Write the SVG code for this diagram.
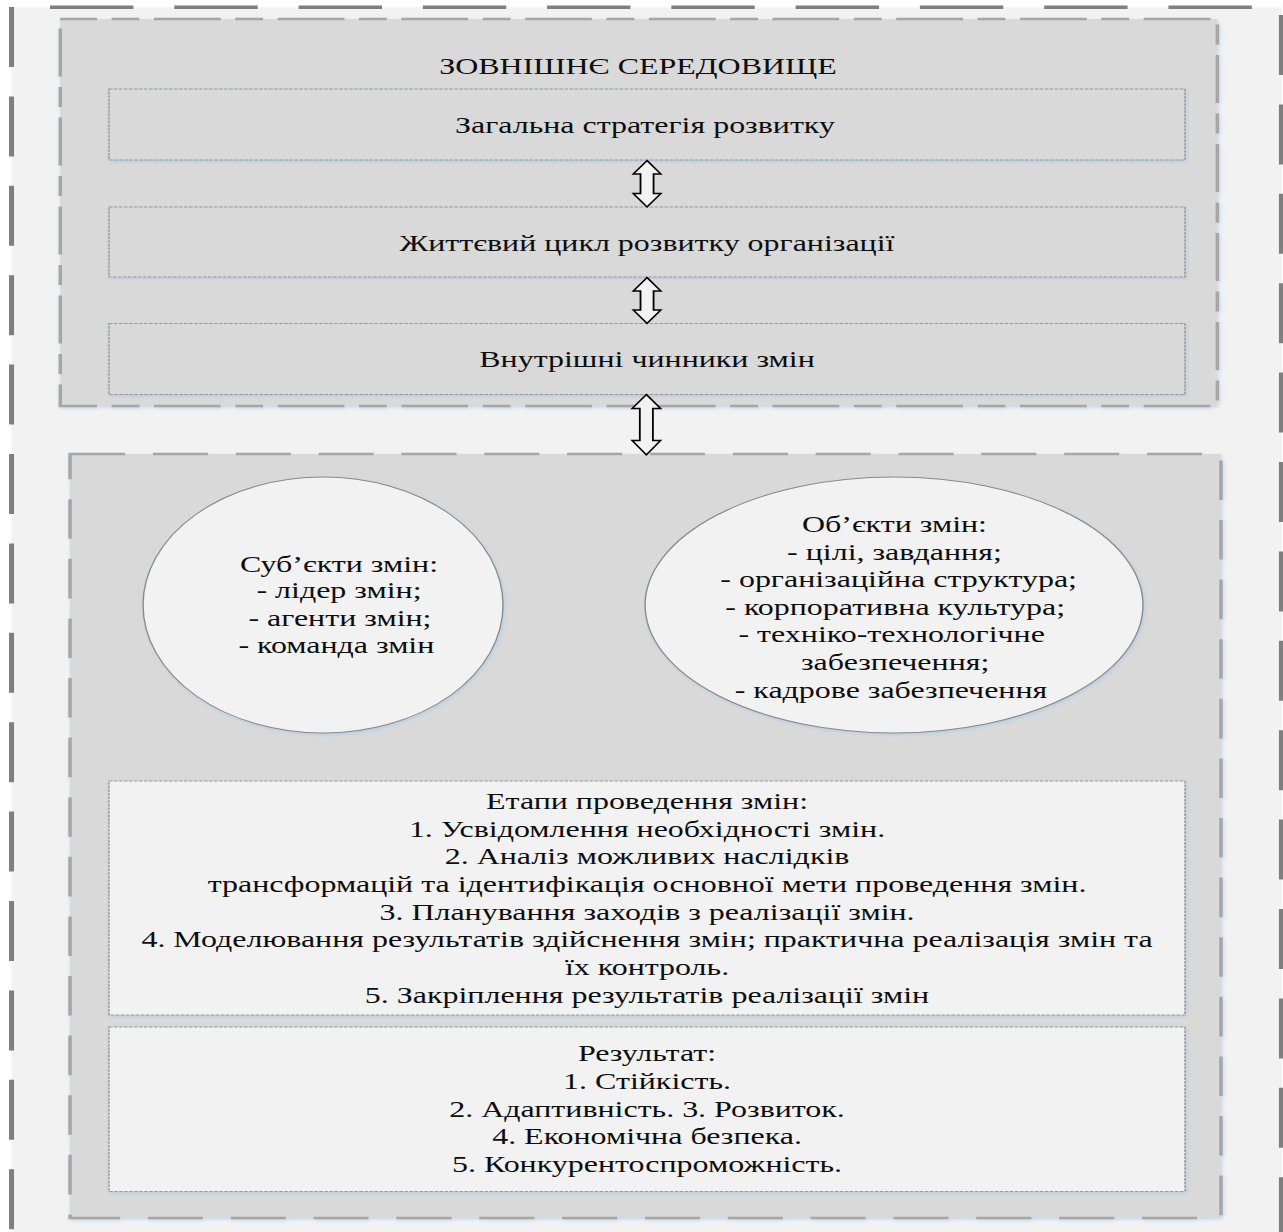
<svg xmlns="http://www.w3.org/2000/svg" width="1283" height="1232" viewBox="0 0 1283 1232">
  <defs>
    <filter id="glow" x="-5%" y="-5%" width="110%" height="110%">
      <feDropShadow dx="0.8" dy="1.5" stdDeviation="1.6" flood-color="#9dc3e6" flood-opacity="0.55"/>
    </filter>
    <style>
      .txt { font-family: "Liberation Serif", "Times New Roman", serif; font-size: 23px; fill: #0d0d0d; text-anchor: middle; }
      .outer { fill: none; stroke: #7f7f7f; stroke-width: 3.6; stroke-dasharray: 60 29.4; }
      .frameTop { fill: #d9d9d9; stroke: #a6a6a6; stroke-width: 2.5; stroke-dasharray: 48 10.5 20 10.5; stroke-dashoffset: 21.6; filter: url(#glow); }
      .frameBottom { fill: #d9d9d9; stroke: #a6a6a6; stroke-width: 2.5; stroke-dasharray: 39.6 20; filter: url(#glow); }
      .box { stroke: #9a9a9a; stroke-width: 1.1; stroke-dasharray: 2.6 1; filter: url(#glow); }
      .grey { fill: #d9d9d9; }
      .light { fill: #f2f2f2; }
      .ell { fill: #f2f2f2; stroke: #8a8a8a; stroke-width: 1; filter: url(#glow); }
      .arrow { fill: #f2f2f2; stroke: #000; stroke-width: 1.3; stroke-linejoin: miter; }
    </style>
  </defs>

  <rect width="1283" height="1232" fill="#ffffff"/>

  <!-- the whole drawing is laid out on a horizontally stretched grid -->
  <g transform="scale(1.39 1)">
    <!-- page background and outer dashed border -->
    <rect x="8.3" y="7.3" width="914" height="1230" fill="#f2f2f2"/>
    <line class="outer" x1="8.3" y1="7.3" x2="923" y2="7.3" stroke-dashoffset="61.7"/>
    <line class="outer" x1="8.3" y1="7" x2="8.3" y2="1232"/>
    <line class="outer" x1="921.9" y1="15" x2="921.9" y2="1232"/>

    <!-- external environment -->
    <g id="external-environment">
      <rect class="frameTop" x="43.4" y="19" width="832.4" height="387"/>
      <text class="txt" x="459" y="74.5">ЗОВНІШНЄ СЕРЕДОВИЩЕ</text>
    </g>

    <g id="general-strategy">
      <rect class="box grey" x="78.4" y="89" width="774.1" height="71"/>
      <text class="txt" x="464" y="133.5">Загальна стратегія розвитку</text>
    </g>

    <g id="life-cycle">
      <rect class="box grey" x="78.4" y="207" width="774.1" height="70"/>
      <text class="txt" x="465.5" y="251">Життєвий цикл розвитку організації</text>
    </g>

    <g id="internal-factors">
      <rect class="box grey" x="78.4" y="323.5" width="774.1" height="71"/>
      <text class="txt" x="465.5" y="367.5">Внутрішні чинники змін</text>
    </g>

    <!-- change management block -->
    <g id="change-block">
      <rect class="frameBottom" x="50.4" y="454" width="828" height="764"/>
    </g>

    <g id="subjects">
      <ellipse class="ell" cx="232.4" cy="605" rx="129.5" ry="128"/>
      <text class="txt" x="243.9" y="572">Суб’єкти змін:</text>
      <text class="txt" x="243.9" y="598">- лідер змін;</text>
      <text class="txt" x="244.6" y="626">- агенти змін;</text>
      <text class="txt" x="242" y="653">- команда змін</text>
    </g>

    <g id="objects">
      <ellipse class="ell" cx="643.2" cy="605" rx="179.1" ry="128"/>
      <text class="txt" x="643.5" y="532">Об’єкти змін:</text>
      <text class="txt" x="643.5" y="560">- цілі, завдання;</text>
      <text class="txt" x="646.5" y="587">- організаційна структура;</text>
      <text class="txt" x="644" y="615">- корпоративна культура;</text>
      <text class="txt" x="641.5" y="642">- техніко-технологічне</text>
      <text class="txt" x="644" y="670">забезпечення;</text>
      <text class="txt" x="641" y="698">- кадрове забезпечення</text>
    </g>

    <g id="stages">
      <rect class="box light" x="78.4" y="781" width="774.1" height="234"/>
      <text class="txt" x="465.5" y="809">Етапи проведення змін:</text>
      <text class="txt" x="465.5" y="837">1. Усвідомлення необхідності змін.</text>
      <text class="txt" x="465.5" y="864">2. Аналіз можливих наслідків</text>
      <text class="txt" x="465.5" y="892">трансформацій та ідентифікація основної мети проведення змін.</text>
      <text class="txt" x="465.5" y="920">3. Планування заходів з реалізації змін.</text>
      <text class="txt" x="465.5" y="947">4. Моделювання результатів здійснення змін; практична реалізація змін та</text>
      <text class="txt" x="465.5" y="975">їх контроль.</text>
      <text class="txt" x="465.5" y="1003">5. Закріплення результатів реалізації змін</text>
    </g>

    <g id="result">
      <rect class="box light" x="78.4" y="1027" width="774.1" height="164.5"/>
      <text class="txt" x="465.5" y="1061">Результат:</text>
      <text class="txt" x="465.5" y="1089">1. Стійкість.</text>
      <text class="txt" x="465.5" y="1117">2. Адаптивність. 3. Розвиток.</text>
      <text class="txt" x="465.5" y="1144">4. Економічна безпека.</text>
      <text class="txt" x="465.5" y="1172">5. Конкурентоспроможність.</text>
    </g>

    <!-- two-way block arrows between levels -->
    <g id="connectors">
      <path class="arrow" d="M465.5,160.5 L475.5,174 L470.2,174 L470.2,193.5 L475.5,193.5 L465.5,207 L455.5,193.5 L460.8,193.5 L460.8,174 L455.5,174 Z"/>
      <path class="arrow" d="M465.5,277.5 L475.5,291 L470.2,291 L470.2,310 L475.5,310 L465.5,323.5 L455.5,310 L460.8,310 L460.8,291 L455.5,291 Z"/>
      <path class="arrow" d="M465,394.5 L475.3,408.5 L469.7,408.5 L469.7,440.5 L475.3,440.5 L465,455 L454.7,440.5 L460.3,440.5 L460.3,408.5 L454.7,408.5 Z"/>
    </g>
  </g>
</svg>
